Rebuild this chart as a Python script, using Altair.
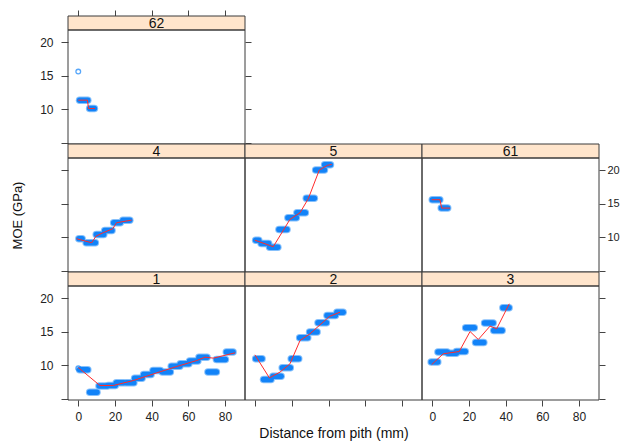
import altair as alt
import pandas as pd

W, H, STRIP = 177, 114, 14
XDOM = [-5.6, 90.9]
YDOM = [4.8, 21.8]
XTICKS = [0, 20, 40, 60, 80]
YTICKS = [5, 10, 15, 20]
BLUE = "#1283f8"
BLUE_EDGE = "#86c0fb"
RED = "#ff2b2b"
STRIP_FILL = "#ffe5cc"
FRAME = "#3a3a3a"
FONT = "Liberation Sans"

# ---- data: ring segments (start mm, end mm, MOE GPa), red curve, single circles ----
p62_start = [0.7, 6.2]
p62_end = [5.2, 8.8]
p62_moe = [11.34, 10.09]
p62_line_x = [0.0, 5.0, 5.6, 9.1]
p62_line_y = [11.34, 11.34, 10.09, 10.09]
p62_pt_x = [0.0]
p62_pt_y = [15.6]

p4_start = [0.3, 4.3, 9.8, 14.4, 19.3, 24.3]
p4_end = [2.1, 9.3, 13.9, 18.4, 22.9, 28.1]
p4_moe = [9.76, 9.16, 10.4, 11.0, 12.15, 12.5]
p4_line_x = [-0.9, 7.3, 9.7, 13.6, 18.8, 20.9, 29.1]
p4_line_y = [9.76, 9.16, 10.15, 10.66, 11.25, 12.15, 12.54]

p5_start = [0.2, 3.2, 7.8, 12.9, 17.8, 22.7, 27.8, 32.9, 37.8]
p5_end = [1.9, 7.3, 12.3, 17.3, 22.4, 27.3, 32.2, 37.7, 41.0]
p5_moe = [9.55, 9.06, 8.5, 11.15, 12.9, 13.64, 15.78, 20.0, 20.8]
p5_line_x = [-0.2, 9.8, 18.9, 24.4, 28.9, 34.9, 39.3, 41.7]
p5_line_y = [9.55, 8.57, 12.64, 13.64, 15.73, 20.0, 20.7, 20.85]

p61_start = [0.0, 4.9]
p61_end = [4.1, 8.4]
p61_moe = [15.58, 14.33]
p61_line_x = [-0.3, 4.2, 5.1, 9.7]
p61_line_y = [15.58, 15.58, 14.33, 14.33]

p1_start = [0.7, 6.2, 11.3, 16.2, 20.7, 26.1, 30.7, 35.6, 40.7, 45.8, 50.7, 55.6, 60.7, 65.8, 70.7, 75.3, 80.7]
p1_end = [5.2, 10.2, 15.7, 20.2, 24.8, 30.3, 34.8, 39.7, 44.8, 50.2, 55.4, 60.3, 65.2, 70.2, 75.3, 80.2, 84.4]
p1_moe = [9.3, 5.97, 6.87, 6.96, 7.36, 7.36, 8.06, 8.6, 9.19, 8.96, 9.85, 10.19, 10.6, 11.19, 8.96, 10.84, 11.94]
p1_line_x = [0.0, 11.8, 19.1, 30.0, 42.8, 53.7, 64.6, 69.1, 73.7, 85.5]
p1_line_y = [9.64, 6.96, 6.96, 7.7, 8.85, 9.8, 10.69, 11.19, 11.04, 11.84]
p1_pt_x = [0.0]
p1_pt_y = [9.55]

p2_start = [0.2, 4.5, 9.6, 14.7, 19.6, 24.2, 29.6, 34.2, 39.1, 44.5]
p2_end = [3.7, 8.6, 14.1, 19.1, 23.7, 28.6, 33.7, 38.8, 43.7, 47.9]
p2_moe = [10.94, 7.85, 8.36, 9.6, 10.94, 14.07, 14.93, 16.31, 17.4, 17.9]
p2_line_x = [-0.2, 7.7, 13.5, 18.9, 24.4, 29.8, 35.3, 40.4, 46.2]
p2_line_y = [11.54, 8.1, 8.96, 10.19, 13.67, 14.67, 16.01, 17.25, 17.9]

p3_start = [-0.6, 3.1, 8.5, 13.1, 18.2, 23.6, 28.5, 33.5, 38.5]
p3_end = [3.0, 8.1, 13.1, 18.0, 22.9, 28.1, 33.2, 38.1, 41.9]
p3_moe = [10.45, 11.94, 11.79, 12.03, 15.57, 13.37, 16.27, 15.16, 18.55]
p3_line_x = [-0.3, 6.0, 14.7, 20.6, 25.1, 31.5, 35.1, 42.0]
p3_line_y = [10.09, 11.69, 12.03, 15.01, 13.82, 15.82, 15.42, 19.15]


def xscale():
    return alt.Scale(domain=XDOM, nice=False, zero=False)


def yscale():
    return alt.Scale(domain=YDOM, nice=False, zero=False)


AX = dict(domain=False, grid=False, tickColor="#444", tickWidth=1,
          labelFont=FONT, labelFontSize=12, labelColor="#222",
          titleFont=FONT, titleFontWeight="normal", titleColor="#111")


def yaxis(orient, labels, title=""):
    if orient == "left":
        kw = dict(AX, orient=orient, values=YTICKS, tickSize=7, labelPadding=8,
                  labels=labels, title=title)
    else:
        kw = dict(AX, orient=orient, values=YTICKS, tickSize=6, labelPadding=2,
                  labels=labels, title=title)
        kw["labelFontSize"] = 11
    if labels:
        kw["labelExpr"] = "datum.value == 5 ? '' : datum.label"
    if title:
        kw.update(titleFontSize=13, titlePadding=36)
    return alt.Axis(**kw)


def xaxis(orient, labels, title="", offset=0):
    kw = dict(AX, orient=orient, values=XTICKS, tickSize=6, labelPadding=5,
              labels=labels, title=title, offset=offset)
    if title:
        kw.update(titleFontSize=14, titlePadding=20)
    return alt.Axis(**kw)


def panel(label, start, end, moe, line_x, line_y, pt_x=None, pt_y=None,
          x_axis=None, y_axis1=None, y_axis2=None):
    seg = pd.DataFrame({"start": start, "end": end, "moe": moe})
    ln = pd.DataFrame({"x": line_x, "y": line_y})
    one = pd.DataFrame({"label": [label]})
    layers = []
    layers.append(alt.Chart(one).mark_rect(fill=STRIP_FILL, stroke=FRAME, strokeWidth=1).encode(
        x=alt.value(0), x2=alt.value(W), y=alt.value(-STRIP), y2=alt.value(0)))
    layers.append(alt.Chart(one).mark_text(font=FONT, fontSize=14, color="#111", baseline="middle").encode(
        x=alt.value(W / 2), y=alt.value(-STRIP / 2 + 0.5), text="label:N"))
    # the same x axis on every layer with an x scale, so the shared axis merges
    layers.append(alt.Chart(seg).mark_rule(color=BLUE_EDGE, strokeWidth=7.5, strokeCap="round").encode(
        x=alt.X("start:Q", scale=xscale(), axis=x_axis),
        x2="end:Q",
        y=alt.Y("moe:Q", scale=yscale(), axis=y_axis1)))
    layers.append(alt.Chart(seg).mark_rule(color=BLUE, strokeWidth=5.5, strokeCap="round").encode(
        x=alt.X("start:Q", scale=xscale(), axis=x_axis),
        x2="end:Q",
        y=alt.Y("moe:Q", scale=yscale(), axis=None)))
    if pt_x:
        pts = pd.DataFrame({"x": pt_x, "y": pt_y})
        layers.append(alt.Chart(pts).mark_point(shape="circle", filled=False, color=BLUE,
                                                size=22, strokeWidth=1.3).encode(
            x=alt.X("x:Q", scale=xscale(), axis=x_axis),
            y=alt.Y("y:Q", scale=yscale(), axis=None)))
    layers.append(alt.Chart(ln).mark_line(color=RED, strokeWidth=1).encode(
        x=alt.X("x:Q", scale=xscale(), axis=x_axis),
        y=alt.Y("y:Q", scale=yscale(), axis=y_axis2)))
    layers.append(alt.Chart(one).mark_rect(fillOpacity=0, stroke=FRAME, strokeWidth=1).encode(
        x=alt.value(0), x2=alt.value(W), y=alt.value(0), y2=alt.value(H)))
    return alt.layer(*layers).resolve_scale(y="independent").resolve_axis(y="independent").properties(
        width=W, height=H)


def blank():
    return alt.Chart(pd.DataFrame({"a": [0]})).mark_text(text="").encode(
        x=alt.value(0), y=alt.value(0)).properties(width=W, height=H)


c62 = panel("62", p62_start, p62_end, p62_moe, p62_line_x, p62_line_y, p62_pt_x, p62_pt_y,
            x_axis=xaxis("top", False, offset=STRIP),
            y_axis1=yaxis("left", True), y_axis2=yaxis("right", False))
c4 = panel("4", p4_start, p4_end, p4_moe, p4_line_x, p4_line_y,
           y_axis1=yaxis("left", False, title="MOE (GPa)"))
c5 = panel("5", p5_start, p5_end, p5_moe, p5_line_x, p5_line_y)
c61 = panel("61", p61_start, p61_end, p61_moe, p61_line_x, p61_line_y,
            y_axis1=yaxis("right", True))
c1 = panel("1", p1_start, p1_end, p1_moe, p1_line_x, p1_line_y, p1_pt_x, p1_pt_y,
           x_axis=xaxis("bottom", True), y_axis1=yaxis("left", True))
c2 = panel("2", p2_start, p2_end, p2_moe, p2_line_x, p2_line_y,
           x_axis=xaxis("bottom", False, title="Distance from pith (mm)"))
c3 = panel("3", p3_start, p3_end, p3_moe, p3_line_x, p3_line_y,
           x_axis=xaxis("bottom", True), y_axis1=yaxis("right", False))

chart = alt.concat(
    c62, blank(), blank(),
    c4, c5, c61,
    c1, c2, c3,
    columns=3,
    spacing={"row": STRIP, "column": 0},
    bounds="flush",
).properties(
    autosize=alt.AutoSizeParams(type="none"),
    padding={"left": 60, "top": 22, "right": 554, "bottom": 413}
).configure_view(stroke="transparent")

chart.save("out.html", embed_options={"renderer": "svg", "actions": False})
